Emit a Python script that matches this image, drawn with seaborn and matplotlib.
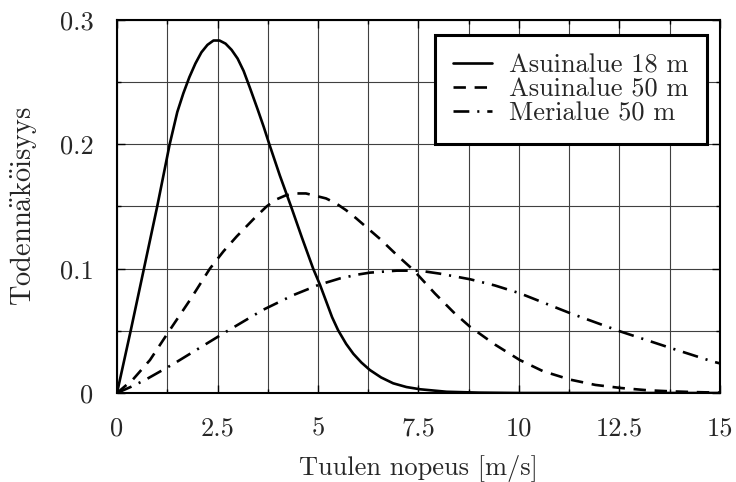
import matplotlib
matplotlib.use("Agg")
import matplotlib.pyplot as plt
import numpy as np
import pandas as pd
import seaborn as sns
from matplotlib.ticker import FixedLocator, FixedFormatter

# ---- data ----
series_names = ["Asuinalue 18 m", "Asuinalue 50 m", "Merialue 50 m"]

speed_res18 = [0, 0.34, 0.67, 1.0, 1.31, 1.5, 1.65, 1.8, 1.95, 2.1, 2.25, 2.4, 2.55,
               2.7, 2.85, 3.0, 3.15, 3.3, 3.5, 3.65, 3.79, 4.05, 4.33, 4.6, 4.88,
               5.05, 5.2, 5.35, 5.5, 5.7, 5.88, 6.08, 6.29, 6.57, 6.87, 7.2, 7.54,
               8.2, 9.0, 10.0, 15.0]
prob_res18 = [0, 0.05, 0.10, 0.15, 0.20, 0.226, 0.241, 0.254, 0.265, 0.274, 0.280,
              0.2835, 0.2835, 0.281, 0.276, 0.269, 0.259, 0.246, 0.228, 0.214, 0.200,
              0.175, 0.150, 0.125, 0.100, 0.087, 0.074, 0.061, 0.0505, 0.0395,
              0.0315, 0.0245, 0.0185, 0.0125, 0.0078, 0.0048, 0.003, 0.001, 0.0003,
              0.0, 0.0]

speed_res50 = [0, 0.4, 0.82, 1.3, 1.82, 2.31, 2.65, 2.98, 3.4, 3.72, 3.95, 4.2, 4.45,
               4.7, 4.95, 5.2, 5.45, 5.7, 5.95, 6.2, 6.54, 6.96, 7.37, 7.91, 8.37,
               8.78, 9.4, 10.02, 10.6, 11.28, 11.9, 12.54, 13.2, 13.8, 14.4, 15.0]
prob_res50 = [0, 0.011, 0.0265, 0.05, 0.075, 0.10, 0.114, 0.126, 0.140, 0.150,
              0.1555, 0.159, 0.1605, 0.1605, 0.1585, 0.1565, 0.1525, 0.147, 0.1405,
              0.1335, 0.124, 0.111, 0.099, 0.080, 0.065, 0.0533, 0.039, 0.0265,
              0.0175, 0.0107, 0.0065, 0.004, 0.0022, 0.0013, 0.0007, 0.0003]

speed_sea50 = [0, 0.35, 0.7, 1.4, 2.31, 2.69, 3.64, 4.39, 5.01, 5.55, 6.0, 6.29, 6.96,
               7.52, 8.03, 8.78, 9.4, 10.02, 11.28, 12.54, 13.8, 14.83, 15.0]
prob_sea50 = [0, 0.005, 0.0105, 0.0233, 0.0413, 0.0488, 0.067, 0.0788, 0.0869,
              0.0922, 0.0953, 0.0968, 0.0984, 0.0984, 0.096, 0.0915, 0.0865, 0.0802,
              0.0641, 0.0493, 0.0359, 0.0252, 0.0238]

x_ticks = [0, 2.5, 5, 7.5, 10, 12.5, 15]
x_tick_labels = ["0", "2.5", "5", "7.5", "10", "12.5", "15"]
x_minor = [1.25, 3.75, 6.25, 8.75, 11.25, 13.75]
y_ticks = [0, 0.1, 0.2, 0.3]
y_tick_labels = ["0", "0.1", "0.2", "0.3"]
y_minor = [0.05, 0.15, 0.25]
x_label = "Tuulen nopeus [m/s]"
y_label = r"$\mathrm{Todenn\ddot{a}k\ddot{o}isyys}$"

# ---- style ----
sns.set_style("ticks")
plt.rcParams["font.family"] = ["cmr10", "DejaVu Serif"]
plt.rcParams["mathtext.fontset"] = "cm"
plt.rcParams["axes.unicode_minus"] = False
plt.rcParams["axes.formatter.use_mathtext"] = True

FS = 19

fig = plt.figure(figsize=(7.36, 4.82), dpi=100)
ax = fig.add_axes([117 / 736, 89 / 482, 603 / 736, 373 / 482])

frames = []
for name, xs, ys in zip(series_names,
                        [speed_res18, speed_res50, speed_sea50],
                        [prob_res18, prob_res50, prob_sea50]):
    frames.append(pd.DataFrame({"speed": xs, "prob": ys, "series": name}))
df = pd.concat(frames, ignore_index=True)

line_styles = ["-", (0, (4.7, 3.3)), (0, (6.0, 3.0, 0.8, 3.0))]
for name, ls in zip(series_names, line_styles):
    sub = df[df["series"] == name]
    sns.lineplot(data=sub, x="speed", y="prob", ax=ax, color="black",
                 linewidth=1.9, linestyle=ls, label=name,
                 estimator=None, sort=False)

ax.set_xlim(0, 15)
ax.set_ylim(0, 0.3)
ax.xaxis.set_major_locator(FixedLocator(x_ticks))
ax.xaxis.set_major_formatter(FixedFormatter(x_tick_labels))
ax.xaxis.set_minor_locator(FixedLocator(x_minor))
ax.yaxis.set_major_locator(FixedLocator(y_ticks))
ax.yaxis.set_major_formatter(FixedFormatter(y_tick_labels))
ax.yaxis.set_minor_locator(FixedLocator(y_minor))

ax.set_axisbelow(True)
ax.grid(which="both", color="0.25", linewidth=0.8)
ax.tick_params(which="both", direction="in", top=True, right=True,
               labelsize=FS, pad=17, color="black")
ax.tick_params(which="major", length=6, width=1)
ax.tick_params(which="minor", length=3, width=1)
for sp in ax.spines.values():
    sp.set_linewidth(1.5)
    sp.set_color("black")

ax.set_xlabel(x_label, fontsize=FS)
ax.set_ylabel(y_label, fontsize=20.5)
ax.xaxis.set_label_coords(0.5, -0.166)
ax.yaxis.set_label_coords(-0.13, 0.5)

leg = ax.legend(loc="upper right", bbox_to_anchor=(0.978, 0.96),
                borderaxespad=0, fancybox=False, framealpha=1,
                edgecolor="black", fontsize=FS, handlelength=1.45,
                handletextpad=0.65, labelspacing=0.02, borderpad=0.7)
leg.get_frame().set_linewidth(2.2)

fig.savefig("out.png", dpi=100)
